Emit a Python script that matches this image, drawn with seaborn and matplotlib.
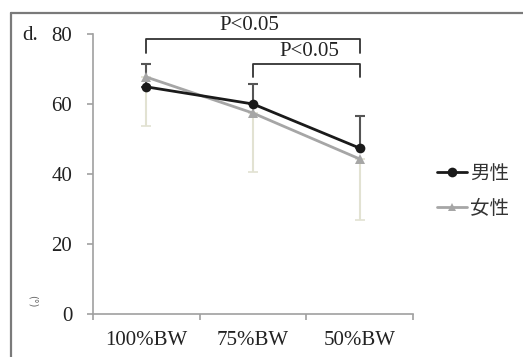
import matplotlib
matplotlib.use("Agg")
import matplotlib.pyplot as plt
from matplotlib.lines import Line2D
import seaborn as sns
import pandas as pd

loads = ['100%BW', '75%BW', '50%BW']
male_mean = [64.9, 60.0, 47.4]
male_sd = [6.5, 5.7, 9.2]
female_mean = [67.7, 57.4, 44.3]
female_sd = [14.0, 16.8, 17.4]
sexes = ['男性', '女性']
yticks = [0, 20, 40, 60, 80]

df = pd.DataFrame({
    'load': loads * 2,
    'angle': male_mean + female_mean,
    'sex': [sexes[0]] * 3 + [sexes[1]] * 3,
})

sns.set_style("white")
plt.rcParams['font.family'] = ['Liberation Serif', 'DejaVu Serif']

fig = plt.figure(figsize=(5.23, 3.57), dpi=100)
ax = fig.add_axes([93 / 523, 1 - 314 / 357, 320 / 523, 280 / 357])

male_c = '#1a1a1a'
female_c = '#a6a6a6'

# female first so the male line sits on top
ax.errorbar(range(3), female_mean, yerr=[female_sd, [0] * 3], fmt='none',
            ecolor='#e2e2d2', elinewidth=1.5, capsize=3.5, capthick=1.2, zorder=1)
ax.errorbar(range(3), male_mean, yerr=[[0] * 3, male_sd], fmt='none',
            ecolor='#555555', elinewidth=1.5, capsize=3.5, capthick=1.5, zorder=1)
sns.lineplot(data=df, x='load', y='angle', hue='sex', style='sex',
             hue_order=['女性', '男性'], style_order=['女性', '男性'],
             palette={'男性': male_c, '女性': female_c},
             markers={'男性': 'o', '女性': '^'}, dashes=False,
             markersize=7, linewidth=2, markeredgewidth=0,
             legend=False, ax=ax, zorder=3)

ax.set_xlim(-0.5, 2.5)
ax.set_ylim(0, 80)
ax.set_yticks(yticks)
ax.set_xticks(range(3))
ax.set_xticklabels(loads)
ax.set_xticks([-0.5, 0.5, 1.5, 2.5], minor=True)
ax.set_xlabel('')
ax.set_ylabel('')
for s in ['top', 'right']:
    ax.spines[s].set_visible(False)
for s in ['left', 'bottom']:
    ax.spines[s].set_color('#a0a0a0')
    ax.spines[s].set_linewidth(1.2)
ax.tick_params(axis='y', which='major', direction='out', length=4, width=1.2,
               color='#a0a0a0', pad=11, labelsize=15, left=True)
ax.tick_params(axis='x', which='major', length=0, pad=12, labelsize=15)
ax.tick_params(axis='x', which='minor', direction='out', length=4, width=1.2,
               color='#a0a0a0', bottom=True)
for lab in ax.get_xticklabels() + ax.get_yticklabels():
    lab.set_color('#222222')

# significance brackets
bk = dict(color='#333333', lw=1.3, clip_on=False)
ax.plot([0, 0, 2, 2], [74.6, 78.6, 78.6, 74.6], **bk)
ax.plot([1, 1, 2, 2], [67.7, 71.4, 71.4, 67.7], **bk)
ax.text(0.97, 82.5, 'P<0.05', ha='center', va='center', fontsize=15, color='#222222')
ax.text(1.53, 75.0, 'P<0.05', ha='center', va='center', fontsize=15, color='#222222')

handles = [Line2D([], [], color=male_c, marker='o', markersize=7, lw=2, markeredgewidth=0),
           Line2D([], [], color=female_c, marker='^', markersize=6, lw=2, markeredgewidth=0)]
leg = fig.legend(handles, sexes, loc='center left', bbox_to_anchor=(437 / 523, 1 - 191 / 357),
                 frameon=False, handlelength=1.55, handletextpad=0.15, labelspacing=0.75,
                 borderpad=0, borderaxespad=0,
                 prop={'family': ['Noto Sans CJK JP', 'DejaVu Sans'], 'size': 14})
for t in leg.get_texts():
    t.set_color('#333333')

fig.text(22 / 523, 1 - 36 / 357, 'd.', fontsize=15, va='center', ha='left', color='#222222')
fig.text(33 / 523, 1 - 301 / 357, '(°)', fontsize=7, rotation=270, va='center', ha='center',
         color='#666666', family=['DejaVu Sans'])

# figure frame (left and top edges)
fig.add_artist(Line2D([10.5 / 523, 10.5 / 523], [0, 1 - 13 / 357], color='#7a7a7a', lw=1.6,
                      transform=fig.transFigure))
fig.add_artist(Line2D([10.5 / 523, 1], [1 - 13 / 357, 1 - 13 / 357], color='#7a7a7a', lw=1.6,
                      transform=fig.transFigure))

fig.savefig('out.png', dpi=100)
